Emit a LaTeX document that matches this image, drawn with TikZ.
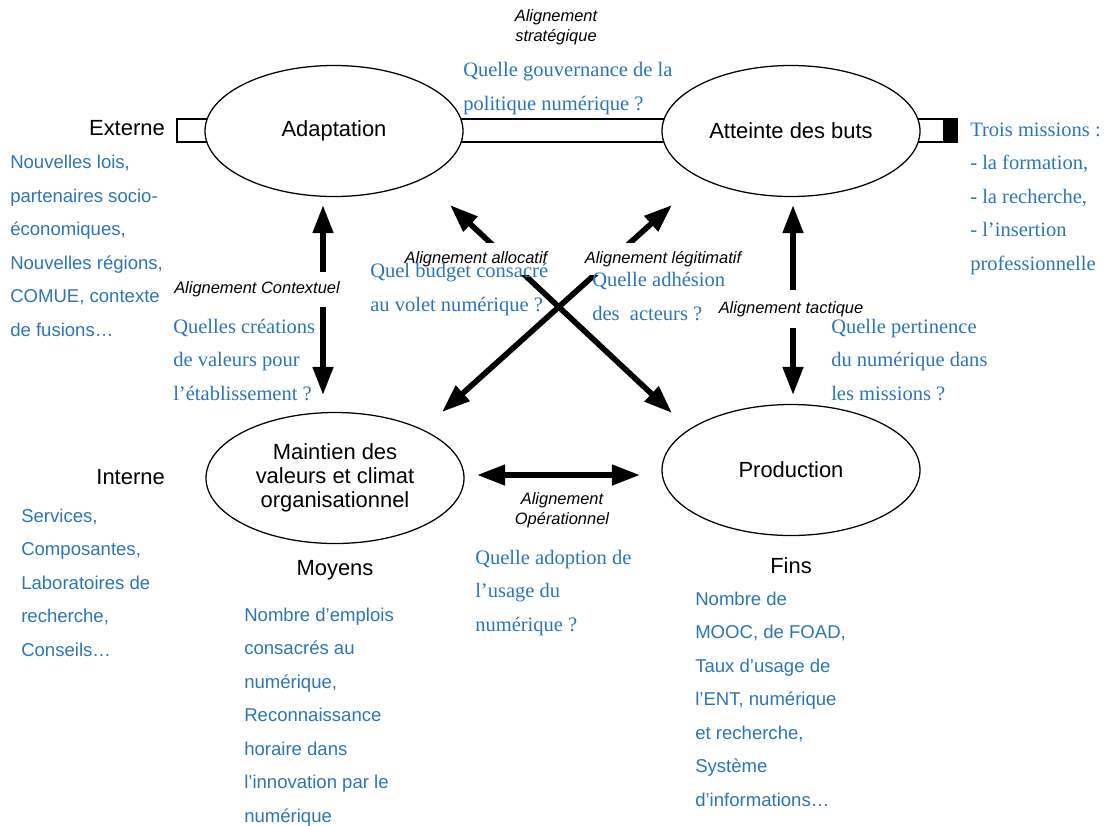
\documentclass[tikz,border=0pt]{standalone}
\usepackage{fontspec}
\setmainfont{Liberation Sans}
\newfontfamily\timesbleu{Liberation Serif}
\usetikzlibrary{arrows.meta,shapes.geometric}
\definecolor{bleu}{RGB}{46,116,181}

\begin{document}
\begin{tikzpicture}[
  elli/.style={draw, ellipse, fill=white, line width=0.9pt, minimum width=6.45cm, minimum height=3.275cm, inner sep=0pt, align=center, font=\fontsize{15.6}{17}\selectfont},
  mot/.style={inner sep=0pt, font=\fontsize{15.6}{17}\selectfont},
  alig/.style={fill=white, inner xsep=0pt, inner ysep=0pt, align=center, font=\fontsize{11.7}{14.2}\selectfont\itshape},
  bsans/.style={anchor=base west, align=left, text=bleu, inner sep=0pt, font=\fontsize{13.2}{23.8}\selectfont},
  bserif/.style={anchor=base west, align=left, text=bleu, inner sep=0pt, font=\timesbleu\fontsize{14.6}{23.8}\selectfont},
  bigarr/.style={{Triangle[length=20pt,width=14pt]}-{Triangle[length=20pt,width=14pt]}, line width=4pt}
]
\useasboundingbox (0,0) rectangle (27.625,-20.625);
% barre externe -- interne
\fill (23.575,-2.975) rectangle (23.925,-3.55);
\draw[line width=0.8pt] (4.425,-2.975) rectangle (23.925,-3.55);

% les quatre modeles
\node[elli] (adapt) at (8.35,-3.275) {Adaptation};
\node[elli] (buts) at (19.775,-3.275) {Atteinte des buts};
\node[elli] (maint) at (8.375,-11.95) {Maintien des\\valeurs et climat\\organisationnel};
\node[elli] (prod) at (19.775,-11.75) {Production};

% bouts des fleches
\coordinate (ctx-h) at (8.075,-5.125);
\coordinate (ctx-b) at (8.075,-9.875);
\coordinate (tac-h) at (19.825,-5.125);
\coordinate (tac-b) at (19.825,-9.875);
\coordinate (op-g) at (11.925,-11.875);
\coordinate (op-d) at (16,-11.875);
\coordinate (alloc-h) at (11.25,-5.125);
\coordinate (alloc-b) at (16.8,-10.325);
\coordinate (legit-h) at (16.8,-5.125);
\coordinate (legit-b) at (11.05,-10.3);

\draw[bigarr] (ctx-h) -- (ctx-b);
\draw[bigarr] (tac-h) -- (tac-b);
\draw[bigarr] (op-g) -- (op-d);
\draw[bigarr] (alloc-h) -- (alloc-b);
\draw[bigarr] (legit-h) -- (legit-b);

% alignements
\node[alig, fill=none] (strat) at (13.9,-0.675) {Alignement\\stratégique};
\node[alig, minimum height=0.875cm] (ctx) at (6.425,-7.225) {Alignement Contextuel};
\node[alig, minimum height=0.95cm] (tac) at (19.775,-7.725) {Alignement tactique};
\node[alig, minimum height=0.8cm] (alloc) at (11.9,-6.475) {Alignement allocatif};
\node[alig, minimum height=0.8cm] (legit) at (16.575,-6.475) {Alignement légitimatif};
\node[alig, fill=none] (oper) at (14.05,-12.75) {Alignement\\Opérationnel};

% externe, interne, moyens, fins
\node[mot, anchor=east] (ext) at (4.125,-3.2) {Externe};
\node[mot, anchor=east] (int) at (4.125,-11.925) {Interne};
\node[mot] (moy) at (8.375,-14.25) {Moyens};
\node[mot] (fins) at (19.775,-14.15) {Fins};

% questions (ancre sur la derniere ligne)
\node[bserif] (q-gouv) at (11.575,-2.75) {Quelle gouvernance de la\\politique numérique ?};
\node[bserif] (q-budget) at (9.25,-7.775) {Quel budget consacré\\au volet numérique ?};
\node[bserif] (q-adh) at (14.8,-8.0) {Quelle adhésion\\des\ \ acteurs ?};
\node[bserif] (q-creat) at (4.325,-10.0) {Quelles créations\\de valeurs pour\\l’établissement ?};
\node[bserif] (q-pert) at (20.775,-10.0) {Quelle pertinence\\du numérique dans\\les missions ?};
\node[bserif] (q-adop) at (11.875,-15.775) {Quelle adoption de\\l’usage du\\numérique ?};
\node[bserif] (missions) at (24.25,-6.75) {Trois missions :\\- la formation,\\- la recherche,\\- l’insertion\\professionnelle};

% exemples
\node[bsans] (ex-ext) at (0.25,-8.4) {Nouvelles lois,\\partenaires socio-\\économiques,\\Nouvelles régions,\\COMUE, contexte\\de fusions…};
\node[bsans] (ex-int) at (0.525,-16.4) {Services,\\Composantes,\\Laboratoires de\\recherche,\\Conseils…};
\node[bsans] (ex-moy) at (6.1,-20.55) {Nombre d’emplois\\consacrés au\\numérique,\\Reconnaissance\\horaire dans\\l’innovation par le\\numérique};
\node[bsans] (ex-fins) at (17.375,-20.15) {Nombre de\\MOOC, de FOAD,\\Taux d’usage de\\l’ENT, numérique\\et recherche,\\Système\\d’informations…};
\end{tikzpicture}
\end{document}
